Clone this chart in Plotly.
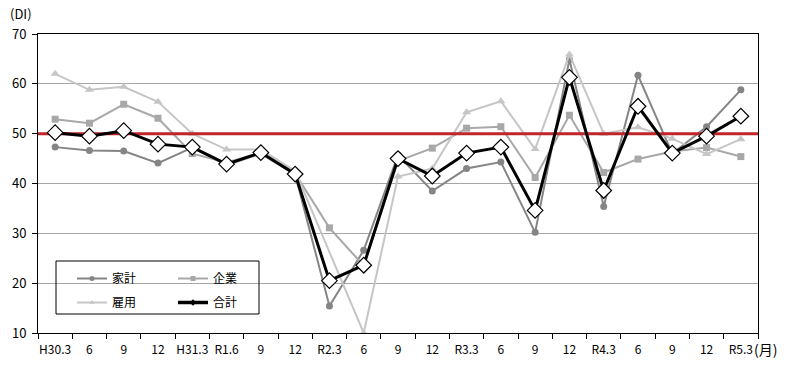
import plotly.graph_objects as go

labels = ["H30.3", "6", "9", "12", "H31.3", "R1.6", "9", "12", "R2.3", "6", "9",
          "12", "R3.3", "6", "9", "12", "R4.3", "6", "9", "12", "R5.3"]

kakei = [47.3, 46.6, 46.5, 44.1, 47.2, 43.7, 46.0, 41.8, 15.4, 26.6, 45.7,
         38.5, 43.0, 44.3, 30.2, 64.9, 35.4, 61.7, 46.0, 51.4, 58.8]
kigyo = [52.9, 52.1, 55.9, 53.1, 46.0, 44.2, 46.2, 42.0, 31.1, 23.5, 44.5,
         47.1, 51.1, 51.4, 41.2, 53.7, 42.2, 44.9, 46.4, 47.2, 45.4]
koyo = [62.0, 58.8, 59.4, 56.4, 50.0, 46.8, 46.8, 42.5, None, 10.0, 41.4,
        43.0, 54.3, 56.5, 46.9, 65.9, 50.0, 51.3, 49.0, 45.9, 48.9]
gokei = [50.2, 49.5, 50.6, 47.9, 47.3, 43.9, 46.2, 41.9, 20.5, 23.6, 45.0,
         41.5, 46.1, 47.3, 34.6, 61.3, 38.6, 55.5, 46.1, 49.5, 53.5]
threshold = 50

x_idx = list(range(len(labels)))
FONT = "Noto Sans CJK JP"

C_KAKEI, C_KIGYO, C_KOYO = "#858585", "#A8A8A8", "#C6C6C6"

fig = go.Figure()
fig.add_trace(go.Scatter(x=x_idx, y=kakei, name="家計", mode="lines+markers",
                         line=dict(color=C_KAKEI, width=2),
                         marker=dict(symbol="circle", size=7, color=C_KAKEI),
                         showlegend=False))
fig.add_trace(go.Scatter(x=x_idx, y=kigyo, name="企業", mode="lines+markers",
                         line=dict(color=C_KIGYO, width=2),
                         marker=dict(symbol="square", size=7, color=C_KIGYO),
                         showlegend=False))
fig.add_trace(go.Scatter(x=x_idx, y=koyo, name="雇用", mode="lines+markers",
                         connectgaps=True,
                         line=dict(color=C_KOYO, width=2),
                         marker=dict(symbol="triangle-up", size=8, color=C_KOYO),
                         showlegend=False))
fig.add_trace(go.Scatter(x=[-0.5, len(labels) - 0.5], y=[threshold, threshold],
                         mode="lines", line=dict(color="#C0252A", width=3),
                         showlegend=False, hoverinfo="skip"))
fig.add_trace(go.Scatter(x=x_idx, y=gokei, name="合計", mode="lines+markers",
                         line=dict(color="#000000", width=3),
                         marker=dict(symbol="diamond", size=12, color="white",
                                     line=dict(color="black", width=1.2)),
                         showlegend=False))

# legend-only entries (small key markers as in the reference legend)
key = [("家計", C_KAKEI, "circle", 2, "legend", "a"),
       ("雇用", C_KOYO, "triangle-up", 2, "legend", "c"),
       ("企業", C_KIGYO, "square", 2, "legend2", "b"),
       ("合計", "#000000", "diamond", 3.5, "legend2", "d")]
for name, col, sym, lw, leg, grp in key:
    fig.add_trace(go.Scatter(x=[None], y=[None], name=name, mode="lines+markers",
                             line=dict(color=col, width=lw),
                             marker=dict(symbol=sym, size=5, color=col),
                             legend=leg, legendgroup=grp, hoverinfo="skip"))

W, H = 797, 366
L, R, T, B = 38, 39, 34, 33
pw, ph = W - L - R, H - T - B

def px(xr):
    return (xr - L) / pw

def py(yr):
    return (H - B - yr) / ph

leg_common = dict(xanchor="left", yanchor="top", bgcolor="rgba(0,0,0,0)",
                  borderwidth=0, font=dict(size=12, family=FONT),
                  itemwidth=30, tracegroupgap=5)

fig.update_layout(
    width=W, height=H,
    margin=dict(l=L, r=R, t=T, b=B, autoexpand=False),
    paper_bgcolor="white", plot_bgcolor="white",
    font=dict(family=FONT, size=12, color="#000000"),
    showlegend=True,
    legend=dict(x=px(72), y=py(264), **leg_common),
    legend2=dict(x=px(173), y=py(264), **leg_common),
    xaxis=dict(range=[-0.5, len(labels) - 0.5], tickvals=x_idx, ticktext=labels,
               showgrid=False, zeroline=False, showline=True, linecolor="black",
               linewidth=1, mirror=True, ticks="", automargin=False,
               ticklabelstandoff=6,
               tickfont=dict(size=12, family=FONT),
               minor=dict(tick0=-0.5, dtick=1, ticks="outside", ticklen=5,
                          tickcolor="black", showgrid=False)),
    yaxis=dict(range=[10, 70], tickvals=[10, 20, 30, 40, 50, 60, 70],
               showgrid=True, gridcolor="#A6A6A6", gridwidth=1, zeroline=False,
               showline=True, linecolor="black", linewidth=1, mirror=True,
               ticks="outside", ticklen=5, tickcolor="black", automargin=False,
               ticklabelstandoff=3,
               tickfont=dict(size=13, family=FONT)),
    shapes=[dict(type="rect", xref="paper", yref="paper",
                 x0=px(56), x1=px(259), y0=py(314), y1=py(261),
                 line=dict(color="black", width=1), fillcolor="rgba(0,0,0,0)")],
    annotations=[
        dict(text="(DI)", xref="paper", yref="paper", x=px(8), y=py(13),
             xanchor="left", yanchor="middle", showarrow=False,
             font=dict(size=13, family=FONT)),
        dict(text="(月)", xref="paper", yref="paper", x=px(752), y=py(349),
             xanchor="left", yanchor="middle", showarrow=False,
             font=dict(size=14, family=FONT)),
    ],
)

fig.write_html("out.html", config={"displayModeBar": False},
               post_script="document.body.style.margin='0';"
                           "document.body.style.overflow='hidden';")
